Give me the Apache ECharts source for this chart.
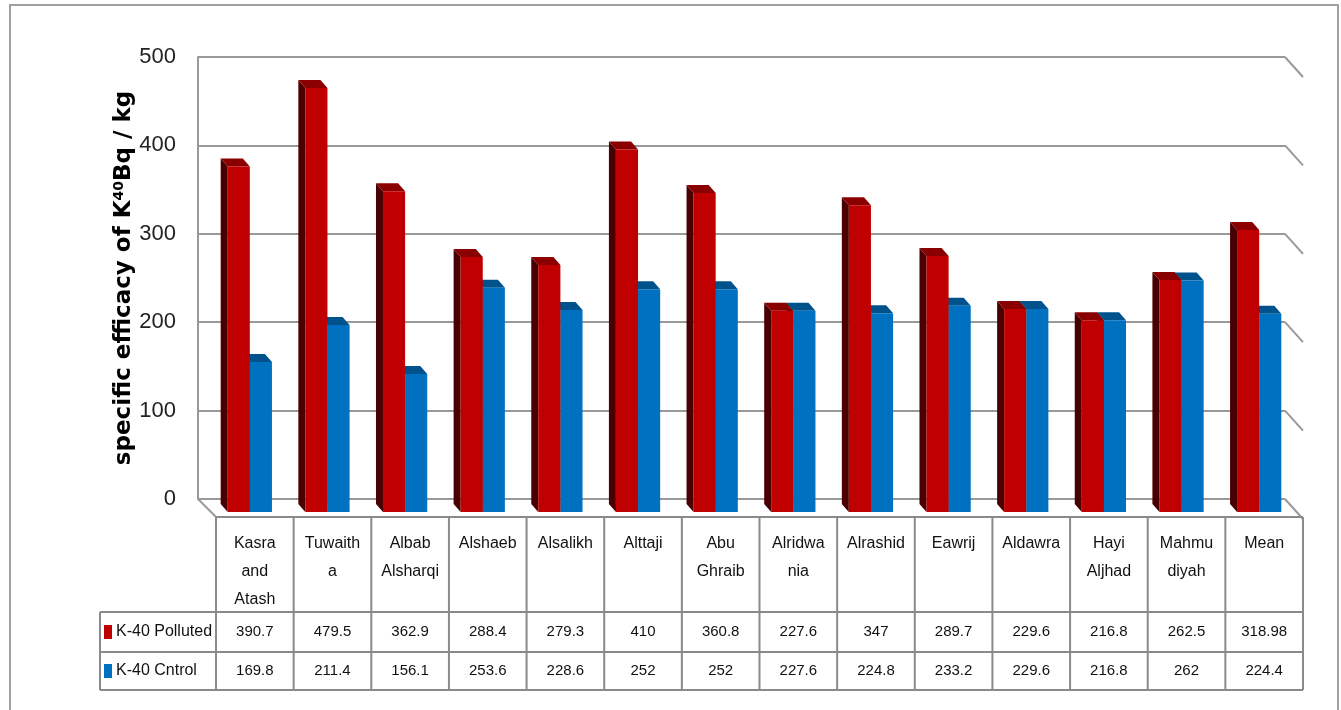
<!DOCTYPE html>
<html>
<head>
<meta charset="utf-8">
<script src="https://cdn.jsdelivr.net/npm/echarts@6/dist/echarts.min.js"></script>
<style>
html,body{margin:0;padding:0;background:#fff;}
#c{width:1341px;height:710px;}
</style>
</head>
<body>
<div id="c"></div>
<script>
// ---- data ----
const categories = ['Kasra\nand\nAtash', 'Tuwaith\na', 'Albab\nAlsharqi', 'Alshaeb', 'Alsalikh', 'Alttaji', 'Abu\nGhraib', 'Alridwa\nnia', 'Alrashid', 'Eawrij', 'Aldawra', 'Hayi\nAljhad', 'Mahmu\ndiyah', 'Mean'];
const polluted = [390.7, 479.5, 362.9, 288.4, 279.3, 410, 360.8, 227.6, 347, 289.7, 229.6, 216.8, 262.5, 318.98];
const control = [169.8, 211.4, 156.1, 253.6, 228.6, 252, 252, 227.6, 224.8, 233.2, 229.6, 216.8, 262, 224.4];
const seriesNames = ['K-40 Polluted', 'K-40 Cntrol'];
const yTicks = [0, 100, 200, 300, 400, 500];

// ---- styles ----
const FONT = "'Liberation Sans', Arial, sans-serif";
const TITLE_FONT = "'DejaVu Sans', Verdana, sans-serif";
const RED = {front: '#C00000', side: '#4a0000', top: '#8a0000'};
const BLUE = {front: '#0070C0', side: '#003a66', top: '#00528c'};
const GRID = {left: 198, right: 56, top: 57, bottom: 211};
const DEPTH = {x: 18, y: 18};     // floor depth (back wall -> front edge)
const BAR_SHIFT = {x: 13, y: 13}; // bar front face offset from back wall
const BAR_D = {x: -7, y: -8};     // visible bar depth
const LINE = '#999999';

const chart = echarts.init(document.getElementById('c'), null, {renderer: 'canvas'});

function bar3d(colors, leftSide) {
  return function (params, api) {
    const idx = api.value(0), v = api.value(1);
    const top = api.coord([idx, v]);
    const base = api.coord([idx, 0]);
    const band = api.size([1, 0])[0];
    const w = band * 0.285;
    const cx = top[0] + BAR_SHIFT.x;
    const x0 = leftSide ? cx - w : cx;
    const x1 = x0 + w;
    const yT = top[1] + BAR_SHIFT.y;
    const yB = base[1] + BAR_SHIFT.y;
    const dx = BAR_D.x, dy = BAR_D.y;
    return {
      type: 'group',
      children: [
        {type: 'polygon', shape: {points: [[x0, yT], [x0, yB], [x0 + dx, yB + dy], [x0 + dx, yT + dy]]}, style: {fill: colors.side}},
        {type: 'polygon', shape: {points: [[x0, yT], [x1, yT], [x1 + dx, yT + dy], [x0 + dx, yT + dy]]}, style: {fill: colors.top}},
        {type: 'rect', shape: {x: x0, y: yT, width: w, height: yB - yT}, style: {fill: colors.front}}
      ]
    };
  };
}

chart.setOption({
  animation: false,
  backgroundColor: '#fff',
  grid: GRID,
  xAxis: {
    type: 'category',
    data: categories,
    axisLine: {show: false},
    axisTick: {show: false},
    axisLabel: {show: false},
    splitLine: {show: false}
  },
  yAxis: {
    type: 'value',
    min: 0, max: 500, interval: 100,
    axisLine: {show: true, lineStyle: {color: LINE, width: 2}},
    axisTick: {show: false},
    axisLabel: {fontFamily: FONT, fontSize: 22, color: '#222', margin: 22},
    splitLine: {show: true, lineStyle: {color: LINE, width: 2}},
    name: 'specific efficacy of K{sup|40}Bq / kg',
    nameLocation: 'middle',
    nameGap: 62,
    nameMoveOverlap: false,
    nameTextStyle: {
      fontFamily: TITLE_FONT, fontSize: 23, fontWeight: 'bold', color: '#000',
      rich: {sup: {fontFamily: TITLE_FONT, fontSize: 14, fontWeight: 'bold', color: '#000', verticalAlign: 'top', padding: [0, 0, 10, 0]}}
    }
  },
  series: [
    {name: seriesNames[1], type: 'custom', z: 2, renderItem: bar3d(BLUE, false), data: control.map((v, i) => [i, v])},
    {name: seriesNames[0], type: 'custom', z: 3, renderItem: bar3d(RED, true), data: polluted.map((v, i) => [i, v])}
  ]
});

// ---- 3D frame + data table ----
function buildGraphics() {
  const g = [];
  const xL = GRID.left;
  const xR = 1341 - GRID.right;
  yTicks.forEach(t => {
    const y = chart.convertToPixel({yAxisIndex: 0}, t);
    g.push({type: 'line', shape: {x1: xR, y1: y, x2: xR + DEPTH.x, y2: y + DEPTH.y + 2}, style: {stroke: LINE, lineWidth: 2}, z: 1});
  });
  const y0 = chart.convertToPixel({yAxisIndex: 0}, 0);
  const front = y0 + DEPTH.y;
  g.push({type: 'line', shape: {x1: xL, y1: y0, x2: xL + DEPTH.x, y2: front}, style: {stroke: LINE, lineWidth: 2}, z: 1});

  // table
  const tL = xL + DEPTH.x, tR = xR + DEPTH.x;
  const tTop = front, hB = 612, r1B = 652, r2B = 690, keyL = 100;
  const n = categories.length, colW = (tR - tL) / n;
  const ts = {stroke: '#8a8a8a', lineWidth: 2};
  g.push({type: 'line', shape: {x1: tL, y1: tTop, x2: tR, y2: tTop}, style: ts, z: 5});
  [hB, r1B, r2B].forEach(y => g.push({type: 'line', shape: {x1: keyL, y1: y, x2: tR, y2: y}, style: ts, z: 5}));
  g.push({type: 'line', shape: {x1: keyL, y1: hB, x2: keyL, y2: r2B}, style: ts, z: 5});
  for (let i = 0; i <= n; i++) {
    const x = tL + i * colW;
    g.push({type: 'line', shape: {x1: x, y1: tTop, x2: x, y2: r2B}, style: ts, z: 5});
  }
  categories.forEach((c, i) => {
    const cx = tL + (i + 0.5) * colW;
    g.push({type: 'text', x: cx, y: 530, style: {text: c, fontFamily: FONT, fontSize: 16, lineHeight: 28, fill: '#111', align: 'center', verticalAlign: 'top'}, z: 6});
    g.push({type: 'text', x: cx, y: (hB + r1B) / 2, style: {text: String(polluted[i]), fontFamily: FONT, fontSize: 15, fill: '#111', align: 'center', verticalAlign: 'middle'}, z: 6});
    g.push({type: 'text', x: cx, y: (r1B + r2B) / 2, style: {text: String(control[i]), fontFamily: FONT, fontSize: 15, fill: '#111', align: 'center', verticalAlign: 'middle'}, z: 6});
  });
  [[RED.front, seriesNames[0], (hB + r1B) / 2], [BLUE.front, seriesNames[1], (r1B + r2B) / 2]].forEach(([col, name, y]) => {
    g.push({type: 'rect', shape: {x: 104, y: y - 7, width: 8, height: 14}, style: {fill: col}, z: 6});
    g.push({type: 'text', x: 116, y: y, style: {text: name, fontFamily: FONT, fontSize: 16, fill: '#111', align: 'left', verticalAlign: 'middle'}, z: 6});
  });
  // outer border
  g.push({type: 'rect', shape: {x: 10, y: 5, width: 1328, height: 720}, style: {fill: 'none', stroke: '#a0a0a0', lineWidth: 2}, z: 0});
  chart.setOption({graphic: g});
}
buildGraphics();
</script>
</body>
</html>
